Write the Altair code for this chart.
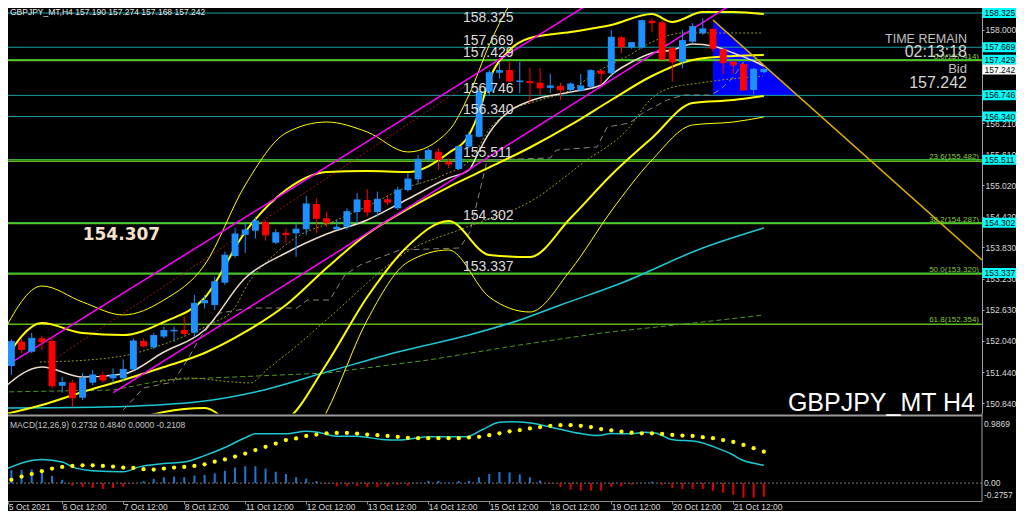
import altair as alt
import pandas as pd

# ---------------- GBPJPY H4 candles (index 0 = 5 Oct 12:00) ----------------
opens = [151.29, 151.556, 152.022, 151.83, 152.087, 152.035, 151.178, 151.236, 150.948, 151.236,
         151.383, 151.32, 151.32, 151.49, 152.035, 151.915, 152.12, 152.22, 152.246, 152.195,
         152.758, 152.726, 153.154, 153.665, 154.07, 154.15, 154.32, 153.92, 154.11, 154.1,
         154.178, 154.663, 154.39, 154.178, 154.227, 154.51, 154.74, 154.51, 154.753, 154.58,
         154.93, 155.136, 155.52, 155.666, 155.474, 155.334, 155.762, 155.953, 156.817, 157.18,
         157.233, 157.0, 157.02, 156.99, 156.89, 156.926, 156.85, 156.84, 156.91, 157.22,
         157.17, 157.86, 157.668, 157.668, 158.178, 158.148, 157.65, 157.39, 157.776, 157.937,
         158.02, 157.63, 157.39, 157.348, 156.85, 157.19]
highs = [151.62, 152.068, 152.087, 152.19, 152.137, 152.12, 151.35, 151.287, 151.416, 151.479,
         151.446, 151.51, 151.68, 152.087, 152.087, 152.19, 152.31, 152.31, 152.50, 152.92,
         152.917, 153.27, 153.75, 154.2, 154.29, 154.42, 154.35, 154.18, 154.196, 154.29,
         154.82, 154.77, 154.515, 154.356, 154.58, 154.87, 154.945, 154.9, 154.835, 154.995,
         155.25, 155.6, 155.73, 155.73, 155.54, 155.77, 156.05, 156.88, 157.23, 157.39,
         157.39, 157.39, 157.28, 157.27, 157.16, 156.99, 156.99, 157.156, 157.246, 157.233,
         158.0, 157.885, 157.77, 158.2, 158.224, 158.19, 157.68, 158.0, 158.128, 158.224,
         158.03, 157.65, 157.42, 157.37, 157.27, 157.274]
lows = [151.20, 151.383, 151.80, 151.80, 151.862, 151.128, 151.044, 150.775, 150.90, 151.19,
        151.236, 151.22, 151.255, 151.47, 151.915, 151.876, 152.087, 152.022, 152.12, 152.12,
        152.66, 152.63, 153.11, 153.63, 153.72, 154.0, 153.96, 153.895, 153.92, 153.65,
        154.07, 154.1, 154.227, 154.165, 154.165, 154.29, 154.42, 154.42, 154.64, 154.55,
        154.9, 155.04, 155.474, 155.315, 155.35, 155.32, 155.73, 155.94, 156.753, 157.07,
        157.008, 156.786, 156.59, 156.75, 156.79, 156.657, 156.817, 156.817, 156.88, 156.95,
        157.1, 157.553, 157.64, 157.64, 157.956, 157.44, 157.008, 157.265, 157.745, 157.904,
        157.584, 157.156, 157.16, 156.84, 156.77, 157.168]
closes = [151.575, 152.022, 151.876, 152.087, 152.022, 151.178, 151.236, 150.948, 151.32, 151.383,
          151.287, 151.383, 151.49, 152.035, 151.94, 152.137, 152.233, 152.24, 152.18, 152.758,
          152.81, 153.17, 153.68, 154.087, 154.165, 154.337, 154.07, 154.11, 154.075, 154.18,
          154.663, 154.39, 154.304, 154.216, 154.515, 154.74, 154.51, 154.753, 154.70, 154.93,
          155.14, 155.52, 155.685, 155.52, 155.43, 155.762, 155.986, 156.817, 157.18, 157.22,
          157.022, 157.02, 156.99, 156.89, 156.926, 156.85, 156.964, 156.926, 157.22, 157.17,
          157.86, 157.68, 157.756, 158.178, 158.14, 157.44, 157.39, 157.795, 158.063, 158.02,
          157.65, 157.373, 157.33, 156.85, 157.246, 157.242]

# ---------------- horizontal levels ----------------
teal_levels = [158.325, 157.669, 156.746, 156.340]
green_levels = [157.429, 155.511, 154.302, 153.337]
fib_levels = [157.414, 155.482, 154.287, 153.320, 152.354]
fib_texts = ["0.0(157.414)", "23.6(155.482)", "38.2(154.287)", "50.0(153.320)", "61.8(152.354)"]
label_levels = [157.669, 157.429, 156.746, 156.340, 155.511, 154.302, 153.337]
label_texts = ["157.669", "157.429", "156.746", "156.340", "155.511", "154.302", "153.337"]
top_level, top_text = 158.325, "158.325"
box_levels = [158.325, 157.669, 157.429, 156.746, 156.340, 155.511, 154.302, 153.337]
box_texts = ["158.325", "157.669", "157.429", "156.746", "156.340", "155.511", "154.302", "153.337"]
bid_price = 157.242
bid_text = "157.242"

price_ticks = [158.000, 157.410, 156.810, 156.210, 155.610, 155.020, 154.420,
               153.830, 153.230, 152.630, 152.040, 151.440, 150.840]
date_tick_idx = [0.7, 6, 12, 18, 24, 30, 36, 42, 48, 54, 60, 66, 72]
date_tick_labels = ["5 Oct 2021", "6 Oct 12:00", "7 Oct 12:00", "8 Oct 12:00", "11 Oct 12:00",
                    "12 Oct 12:00", "13 Oct 12:00", "14 Oct 12:00", "15 Oct 12:00",
                    "18 Oct 12:00", "19 Oct 12:00", "20 Oct 12:00", "21 Oct 12:00"]

# ---------------- Bollinger bands (thin = 3 sigma, thick = 2 sigma) ----------------
bb3u_i = [0, 4, 8, 12, 16, 20, 24, 28, 32, 36, 40, 44, 46, 48, 50, 52, 56, 60, 64, 66, 68, 72, 75]
bb3u_p = [152.131, 153.090, 152.783, 152.534, 152.821, 153.492, 155.027, 156.024, 156.235, 156.043,
          155.660, 156.063, 156.753, 157.712, 158.479, 158.920, 158.863, 158.805, 158.901, 158.556,
          158.652, 158.767, 158.709]
bb2u_i = [0, 4, 8, 12, 16, 20, 24, 28, 32, 36, 40, 44, 46, 47, 48, 50, 52, 56, 60, 64, 66, 69, 72, 75]
bb2u_p = [151.555, 152.380, 152.188, 152.150, 152.399, 152.860, 154.125, 154.931, 155.276, 155.295,
          155.276, 155.641, 155.986, 156.427, 157.041, 157.616, 157.846, 157.961, 158.096, 158.306,
          158.153, 158.345, 158.345, 158.306]
bbm_i = [0, 4, 8, 12, 16, 20, 24, 28, 32, 36, 40, 44, 48, 52, 56, 60, 64, 68, 72, 75]
bbm_p = [150.616, 150.808, 151.057, 151.287, 151.536, 151.805, 152.208, 152.725, 153.435, 154.087,
         154.567, 154.988, 155.363, 155.746, 156.178, 156.657, 157.117, 157.424, 157.501, 157.520]
bb2l_i = [0, 4, 8, 12, 16, 20, 24, 28, 32, 36, 40, 44, 48, 52, 56, 60, 64, 68, 72, 75]
bb2l_p = [149.676, 149.235, 149.925, 150.424, 150.673, 150.750, 150.290, 150.520, 151.594, 152.879,
          153.857, 154.336, 153.684, 153.646, 154.394, 155.219, 155.928, 156.600, 156.657, 156.734]
bb3l_i = [0, 4, 8, 12, 16, 20, 24, 28, 32, 36, 40, 44, 48, 52, 56, 60, 64, 68, 72, 75]
bb3l_p = [149.216, 148.449, 149.369, 150.002, 150.251, 150.232, 149.331, 149.427, 150.673, 152.438,
          153.550, 153.780, 152.879, 152.591, 153.397, 154.528, 155.506, 156.178, 156.235, 156.331]

# ---------------- moving averages / other lines ----------------
ma_fast_i = [0, 4, 8, 12, 16, 20, 24, 28, 32, 36, 40, 44, 46, 47, 48, 49, 50, 52, 56, 59, 60,
             62, 64, 66, 68, 70, 72, 74, 75]
ma_fast_p = [151.095, 151.536, 151.344, 151.402, 151.824, 152.246, 153.243, 153.723, 154.087, 154.356,
             154.758, 155.161, 155.315, 155.679, 156.024, 156.274, 156.446, 156.638, 156.811, 156.945,
             157.137, 157.386, 157.559, 157.616, 157.731, 157.693, 157.559, 157.405, 157.309]
ma_cyan_i = [0, 10, 20, 25, 32, 39, 46, 51, 55, 61, 69, 75]
ma_cyan_p = [150.750, 150.769, 150.884, 151.057, 151.440, 151.824, 152.150, 152.438, 152.725,
             153.147, 153.819, 154.202]
ma_long_i = [0, 11, 16, 32, 42, 51, 59, 69, 75]
ma_long_p = [151.057, 151.095, 151.287, 151.421, 151.670, 151.958, 152.188, 152.399, 152.534]
dot_a_i = [3.8, 9.7, 12.4, 16.3, 18.3, 20.8, 22.8, 24.5, 26.1, 29.4, 32.3, 36.3, 39.2, 43.5, 46.1,
           48.1, 49.7, 53.0, 55.6, 58.9, 61.8, 63.8, 67.1, 74.9]
dot_a_p = [151.632, 151.690, 151.766, 151.997, 152.150, 152.380, 152.630, 153.205, 153.550, 154.068,
           154.298, 154.643, 154.931, 155.219, 155.506, 156.120, 156.408, 156.657, 156.811, 157.232,
           157.520, 157.750, 157.942, 157.942]
dot_b_i = [15.6, 18.3, 22.8, 24.5, 26.1, 29.4, 32.3, 40.2, 45.8, 52.3, 57.2, 61.8, 63.8, 65.5, 68.7, 74.9]
dot_b_p = [151.249, 151.325, 151.249, 151.229, 151.479, 151.997, 152.495, 153.780, 154.221, 154.739,
           155.449, 156.139, 156.657, 156.868, 156.983, 157.117]
kijun_i = [12.0, 14.0, 16.9, 18.3, 19.6, 21.5, 24.5, 29.1, 30.1, 32.3, 33.8, 35.3, 39.2, 45.1, 46.1,
           47.8, 54.0, 54.6, 58.6, 59.6, 61.8, 63.1, 65.5, 67.1, 69.7, 70.7, 72.0, 73.0]
kijun_p = [150.712, 151.134, 151.249, 151.670, 152.112, 152.572, 152.668, 152.668, 152.821, 152.821,
           153.301, 153.492, 153.780, 153.819, 154.125, 155.506, 155.545, 155.698, 155.756, 156.139,
           156.216, 156.408, 156.657, 156.753, 156.753, 156.849, 157.098, 157.386]

# channel, regression, triangle, trend line
chan_up_i = [-0.118, 63.0]
chan_up_p = [151.486, 159.13]
chan_lo_i = [11.02, 73.5]
chan_lo_p = [151.043, 158.694]
red_dot_i = [4.8, 46.1]
red_dot_p = [151.632, 156.983]
tri_i = [70.0, 78.3]
tri_top = [158.191, 156.746]
tri_base = [156.746, 156.746]
gold_i = [70.0, 96.46]
gold_p = [158.191, 153.588]

# ---------------- MACD(12,26,9) ----------------
macd_i = [0, 1, 4, 6, 7, 9, 12, 13.6, 16, 18, 20, 22, 24, 25, 28, 30, 31, 33, 35, 37.4, 39, 42, 45.7,
          47.3, 49, 50.2, 51.9, 54.8, 57, 58.7, 60, 62, 63.3, 64.3, 65.9, 68.5, 70.5, 71.8, 72.8, 74.7, 75]
macd_v = [0.175, 0.25, 0.363, 0.324, 0.25, 0.19, 0.175, 0.25, 0.30, 0.324, 0.423, 0.549, 0.698, 0.758,
          0.758, 0.797, 0.788, 0.722, 0.722, 0.673, 0.662, 0.713, 0.713, 0.822, 0.937, 0.946, 0.931,
          0.833, 0.762, 0.732, 0.762, 0.758, 0.782, 0.773, 0.673, 0.638, 0.534, 0.448, 0.359, 0.284, 0.2732]
signal = [0.010, 0.05, 0.10, 0.14, 0.184, 0.224, 0.249, 0.264, 0.274, 0.274,
          0.264, 0.254, 0.239, 0.234, 0.214, 0.209, 0.224, 0.239, 0.249, 0.264,
          0.289, 0.329, 0.364, 0.409, 0.454, 0.508, 0.558, 0.608, 0.663, 0.688,
          0.727, 0.747, 0.767, 0.772, 0.772, 0.762, 0.747, 0.737, 0.727, 0.712,
          0.697, 0.692, 0.692, 0.692, 0.692, 0.692, 0.702, 0.712, 0.737, 0.767,
          0.797, 0.817, 0.842, 0.862, 0.882, 0.892, 0.892, 0.882, 0.862, 0.832,
          0.812, 0.792, 0.777, 0.767, 0.767, 0.757, 0.742, 0.732, 0.727, 0.707,
          0.692, 0.663, 0.633, 0.588, 0.538, 0.484]
hist = [0.17, 0.2, 0.2, 0.21, 0.175, 0.11, 0.05, -0.04, -0.06, -0.075,
        -0.09, -0.075, -0.06, -0.01, 0.03, 0.065, 0.09, 0.10, 0.09, 0.115,
        0.125, 0.15, 0.19, 0.24, 0.26, 0.26, 0.224, 0.175, 0.14, 0.09,
        0.07, 0.03, -0.01, -0.05, -0.04, -0.04, -0.06, -0.06, -0.05, -0.025,
        -0.04, 0.005, 0.035, 0.035, 0.01, 0.03, 0.035, 0.09, 0.14, 0.17,
        0.165, 0.135, 0.09, 0.04, -0.01, -0.06, -0.10, -0.115, -0.115, -0.115,
        -0.06, -0.05, -0.025, 0.003, 0.02, -0.025, -0.075, -0.09, -0.09, -0.09,
        -0.115, -0.15, -0.18, -0.225, -0.225, -0.2108]
macd_axis_vals = [0.9869, 0.0, -0.2757]
macd_axis_texts = ["0.9869", "0.00", "-0.2757"]

# ---------------- layout & style ----------------
PLOT_W, MAIN_H, MACD_TOP, MACD_BOT = 982, 413, 419, 501
X_MIN, X_MAX = -0.118, 96.46
P_MIN, P_MAX = 150.654, 158.575
M_MIN, M_MAX = -0.2757, 0.9869
FONT = "Liberation Sans"
UP, DN = "#1E90FF", "#FF0000"

XS = alt.Scale(domain=[X_MIN, X_MAX], range=[0, PLOT_W], nice=False, zero=False)
PS = alt.Scale(domain=[P_MIN, P_MAX], range=[MAIN_H, 0], nice=False, zero=False)
MS = alt.Scale(domain=[M_MIN, M_MAX], range=[MACD_BOT, MACD_TOP], nice=False, zero=False)

label_expr = " : ".join(
    f"abs(datum.value - ({v})) < 0.01 ? '{t}'" for v, t in zip(date_tick_idx, date_tick_labels)
) + " : ''"
XAX = alt.Axis(values=date_tick_idx, labelExpr=label_expr, orient="bottom", labelAlign="left",
               labelBaseline="top", labelPadding=-2, tickSize=3, labelFlush=False, labelOverlap=False,
               domainColor="#8C8C8C", tickColor="#8C8C8C", labelColor="#D8D8D8", labelFont=FONT,
               labelFontSize=8.5, grid=False, title=None)
PAX = alt.Axis(orient="right", values=price_ticks, format=".3f", labelFont=FONT, labelFontSize=8.5,
               labelColor="#D8D8D8", tickColor="#B0B0B0", tickSize=2, domainColor="#A0A0A0",
               labelPadding=1, grid=False, title=None, labelOverlap=False, labelFlush=False)


def X(field):
    return alt.X(field, type="quantitative", scale=XS, axis=XAX)


def YP(field, axis=None):
    return alt.Y(field, type="quantitative", scale=PS, axis=axis)


def YM(field):
    return alt.Y(field, type="quantitative", scale=MS, axis=None)


def pline(idx, prices, color, width, dash=None, interp="monotone"):
    kw = dict(color=color, strokeWidth=width, clip=True, interpolate=interp)
    if dash:
        kw["strokeDash"] = dash
    return alt.Chart(pd.DataFrame({"i": idx, "p": prices})).mark_line(**kw).encode(x=X("i"), y=YP("p"))


def txt(s, x, y, size, color, align="left", baseline="alphabetic", font=FONT, weight="normal"):
    return alt.Chart(pd.DataFrame({"t": [s]})).mark_text(
        align=align, baseline=baseline, font=font, fontSize=size, color=color, fontWeight=weight
    ).encode(text="t:N", x=alt.value(x), y=alt.value(y))


layers = []

# blue triangle (background object)
layers.append(alt.Chart(pd.DataFrame({"i": tri_i, "top": tri_top, "base": tri_base}))
              .mark_area(color="#0000FF", opacity=1, interpolate="linear")
              .encode(x=X("i"), y=YP("top"), y2=alt.Y2("base")))

# horizontal lines
layers.append(alt.Chart(pd.DataFrame({"p": teal_levels})).mark_rule(color="#1AA0A0", strokeWidth=1)
              .encode(y=YP("p", axis=PAX)))
layers.append(alt.Chart(pd.DataFrame({"p": fib_levels})).mark_rule(color="#5FB81A", strokeWidth=1.5)
              .encode(y=YP("p")))
layers.append(alt.Chart(pd.DataFrame({"p": green_levels})).mark_rule(color="#44E644", strokeWidth=1)
              .encode(y=YP("p")))

# indicator lines
layers.append(pline(ma_cyan_i, ma_cyan_p, "#1CC8D4", 1.5))
layers.append(pline(ma_long_i, ma_long_p, "#4E9A1E", 1, dash=[5, 3], interp="linear"))
layers.append(pline(dot_b_i, dot_b_p, "#9A9A1A", 1, dash=[2, 2]))
layers.append(pline(dot_a_i, dot_a_p, "#9A9A1A", 1, dash=[2, 2]))
layers.append(pline(kijun_i, kijun_p, "#8C8478", 1, dash=[6, 4], interp="linear"))
layers.append(pline(red_dot_i, red_dot_p, "#A01818", 1, dash=[2, 2], interp="linear"))
layers.append(pline(bb3u_i, bb3u_p, "#FFFF00", 1))
layers.append(pline(bb3l_i, bb3l_p, "#FFFF00", 1))
layers.append(pline(bb2u_i, bb2u_p, "#FFFF00", 2))
layers.append(pline(bbm_i, bbm_p, "#FFFF00", 2))
layers.append(pline(bb2l_i, bb2l_p, "#FFFF00", 2))
layers.append(pline(ma_fast_i, ma_fast_p, "#EADBCB", 1.5))
layers.append(pline(chan_up_i, chan_up_p, "#FF00FF", 1.5, interp="linear"))
layers.append(pline(chan_lo_i, chan_lo_p, "#FF00FF", 1.5, interp="linear"))

# candles
cdf = pd.DataFrame({"i": list(range(len(opens))), "o": opens, "h": highs, "l": lows, "c": closes})
cbase = alt.Chart(cdf).transform_calculate(xl="datum.i - 0.34", xr="datum.i + 0.34")
ccol = alt.condition("datum.c >= datum.o", alt.value(UP), alt.value(DN))
layers.append(cbase.mark_rule(strokeWidth=1).encode(x=X("i"), y=YP("l"), y2=alt.Y2("h"), color=ccol))
layers.append(cbase.mark_rect().encode(x=X("xl"), x2=alt.X2("xr"), y=YP("o"), y2=alt.Y2("c"), color=ccol))
layers.append(cbase.mark_rule(strokeWidth=1).encode(x=X("xl"), x2=alt.X2("xr"), y=YP("c"), color=ccol))

# golden trend line
layers.append(pline(gold_i, gold_p, "#E0B000", 1.5, interp="linear"))

# level texts on chart
layers.append(alt.Chart(pd.DataFrame({"p": label_levels, "t": label_texts}))
              .mark_text(align="left", baseline="alphabetic", dy=-2.5, font=FONT, fontSize=14, color="#DCDCDC")
              .encode(x=alt.value(463), y=YP("p"), text="t:N"))
layers.append(alt.Chart(pd.DataFrame({"p": [top_level], "t": [top_text]}))
              .mark_text(align="left", baseline="alphabetic", dy=9, font=FONT, fontSize=14, color="#DCDCDC")
              .encode(x=alt.value(463), y=YP("p"), text="t:N"))
layers.append(alt.Chart(pd.DataFrame({"p": fib_levels, "t": fib_texts}))
              .mark_text(align="right", baseline="alphabetic", dy=-2, font=FONT, fontSize=8, color="#8CC63F")
              .encode(x=alt.value(979), y=YP("p"), text="t:N"))

# cover below main panel, separators
layers.append(alt.Chart(pd.DataFrame({"a": [0]})).mark_rect(color="#000000")
              .encode(x=alt.value(0), x2=alt.value(PLOT_W), y=alt.value(413.5), y2=alt.value(MACD_BOT)))
layers.append(alt.Chart(pd.DataFrame({"a": [0]})).mark_rule(color="#9A9A9A", strokeWidth=2)
              .encode(y=alt.value(415.5)))
layers.append(alt.Chart(pd.DataFrame({"a": [0]})).mark_rule(color="#A0A0A0", strokeWidth=1)
              .encode(x=alt.value(PLOT_W), y=alt.value(413), y2=alt.value(MACD_BOT)))

# MACD panel
mdf = pd.DataFrame({"i": list(range(len(signal))), "sig": signal, "h": hist})
layers.append(alt.Chart(pd.DataFrame({"v": [0.0]})).mark_rule(color="#808080", strokeDash=[2, 2], strokeWidth=1)
              .encode(y=YM("v")))
layers.append(alt.Chart(mdf).transform_calculate(z="0").mark_rule(strokeWidth=2)
              .encode(x=X("i"), y=YM("h"), y2=alt.Y2("z"),
                      color=alt.condition("datum.h >= 0", alt.value("#1E78D2"), alt.value("#E00000"))))
layers.append(alt.Chart(pd.DataFrame({"i": macd_i, "v": macd_v}))
              .mark_line(color="#1CC8D4", strokeWidth=1.5, interpolate="monotone").encode(x=X("i"), y=YM("v")))
layers.append(alt.Chart(mdf).mark_circle(color="#FFFF00", size=18, opacity=1).encode(x=X("i"), y=YM("sig")))
for v, t, bl, dy in zip(macd_axis_vals, macd_axis_texts, ["top", "middle", "bottom"], [1, 0, -1]):
    layers.append(alt.Chart(pd.DataFrame({"v": [v], "t": [t]}))
                  .mark_text(align="left", baseline=bl, dy=dy, font=FONT, fontSize=8.5, color="#D8D8D8")
                  .encode(x=alt.value(984), y=YM("v"), text="t:N"))

# price boxes on the right scale
layers.append(alt.Chart(pd.DataFrame({"p": box_levels}))
              .mark_rect(color="#00FFFF", yOffset=-5, y2Offset=5)
              .encode(x=alt.value(982.5), x2=alt.value(1016), y=YP("p"), y2=alt.Y2("p")))
layers.append(alt.Chart(pd.DataFrame({"p": box_levels, "t": box_texts}))
              .mark_text(align="left", baseline="middle", font=FONT, fontSize=8.5, color="#000000")
              .encode(x=alt.value(984.5), y=YP("p"), text="t:N"))
layers.append(alt.Chart(pd.DataFrame({"p": [bid_price]}))
              .mark_rect(color="#FFFFFF", yOffset=-5, y2Offset=5)
              .encode(x=alt.value(982.5), x2=alt.value(1016), y=YP("p"), y2=alt.Y2("p")))
layers.append(alt.Chart(pd.DataFrame({"p": [bid_price], "t": [bid_text]}))
              .mark_text(align="left", baseline="middle", font=FONT, fontSize=8.5, color="#000000")
              .encode(x=alt.value(984.5), y=YP("p"), text="t:N"))

# annotations
layers.append(txt("GBPJPY_MT,H4  157.190 157.274 157.168 157.242", 10, 11.5, 8.5, "#E8E8E8", baseline="middle"))
layers.append(txt("MACD(12,26,9) 0.2732 0.4840 0.0000 -0.2108", 10, 424.5, 8.5, "#C8C8C8", baseline="middle"))
layers.append(txt("154.307", 82.7, 240, 17, "#F5E1CE", font="DejaVu Sans", weight="bold"))
layers.append(txt("GBPJPY_MT H4", 975, 411, 25, "#FFFFFF", align="right"))
layers.append(txt("TIME REMAIN", 967, 42.7, 12.5, "#C0C0C0", align="right"))
layers.append(txt("02:13:18", 967, 56.7, 16, "#D4D4D4", align="right"))
layers.append(txt("Bid", 967, 73, 13, "#C0C0C0", align="right"))
layers.append(txt("157.242", 967, 88.3, 16, "#D4D4D4", align="right"))

chart = alt.layer(*layers).resolve_scale(y="independent").properties(
    width=PLOT_W, height=MACD_BOT,
    padding={"left": -8, "top": -8, "right": 34, "bottom": 10},
    autosize=alt.AutoSizeParams(type="none"),
    background="#000000",
).configure_view(stroke=None, fill="#000000").configure_text(font=FONT)

chart.save("out.html", embed_options={"renderer": "svg", "actions": False})
